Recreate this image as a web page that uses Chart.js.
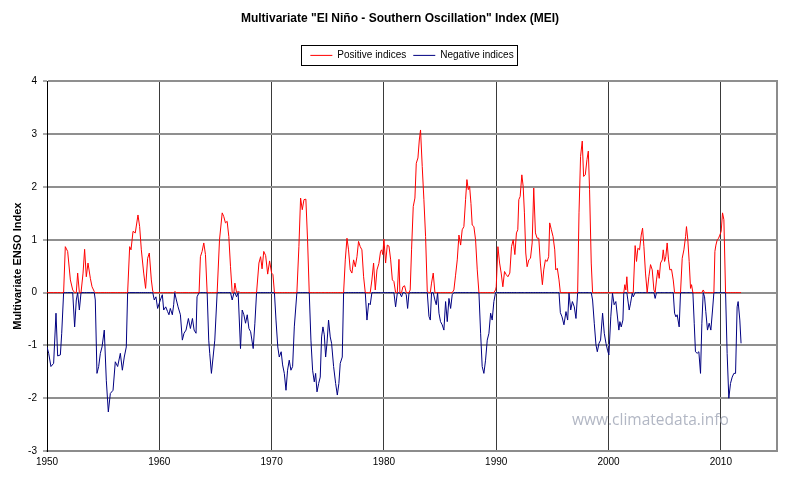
<!DOCTYPE html>
<html><head><meta charset="utf-8">
<script src="https://cdn.jsdelivr.net/npm/chart.js@4.4.1/dist/chart.umd.min.js"></script>
<style>html,body{margin:0;padding:0;background:#fff}</style>
</head><body>
<canvas id="c" width="800" height="488"></canvas>
<script>
// ---- Data ----
const years = [
1950.00,1950.15,1950.35,1950.59,1950.80,1950.95,1951.19,1951.31,1951.48,1951.63,1951.84,1952.08,1952.29,1952.46,1952.61,1952.73,1952.88,1953.03,1953.21,1953.35,1953.50,1953.65,1953.86,1954.01,1954.21,1954.30,1954.45,1954.60,1954.75,1954.90,
1955.10,1955.28,1955.46,1955.64,1955.88,1956.08,1956.29,1956.53,1956.71,1956.88,1957.06,1957.18,1957.36,1957.48,1957.66,1957.86,1958.10,1958.25,1958.40,1958.61,1958.78,1958.96,1959.11,1959.29,1959.42,1959.55,1959.70,1959.85,
1960.09,1960.27,1960.39,1960.57,1960.74,1960.86,1960.98,1961.16,1961.28,1961.37,1961.52,1961.67,1961.88,1962.05,1962.20,1962.38,1962.59,1962.77,1962.95,1963.10,1963.27,1963.36,1963.54,1963.66,1963.81,1963.96,1964.11,1964.26,1964.40,1964.49,1964.64,1964.79,1964.94,
1965.15,1965.36,1965.60,1965.74,1965.89,1966.04,1966.19,1966.34,1966.49,1966.64,1966.73,1966.88,1967.02,1967.23,1967.38,1967.53,1967.68,1967.83,1967.98,1968.13,1968.36,1968.51,1968.66,1968.87,1969.02,1969.15,1969.30,1969.47,1969.65,1969.82,
1970.00,1970.12,1970.25,1970.39,1970.55,1970.68,1970.85,1970.98,1971.13,1971.28,1971.42,1971.57,1971.72,1971.87,1972.02,1972.25,1972.43,1972.58,1972.73,1972.88,1973.05,1973.20,1973.35,1973.50,1973.65,1973.80,1973.92,1974.04,1974.19,1974.33,1974.45,1974.57,1974.69,1974.81,1974.93,
1975.07,1975.22,1975.34,1975.52,1975.70,1975.85,1975.99,1976.11,1976.29,1976.41,1976.56,1976.71,1976.85,1977.00,1977.15,1977.30,1977.45,1977.60,1977.74,1977.89,1978.04,1978.19,1978.34,1978.49,1978.64,1978.78,1978.93,1979.08,1979.23,1979.38,1979.55,1979.70,1979.80,1979.90,
1980.00,1980.15,1980.30,1980.45,1980.60,1980.75,1980.89,1981.04,1981.19,1981.34,1981.42,1981.57,1981.69,1981.84,1981.99,1982.11,1982.23,1982.34,1982.46,1982.61,1982.76,1982.88,1983.03,1983.15,1983.26,1983.41,1983.56,1983.71,1983.86,1984.01,1984.13,1984.24,1984.39,1984.54,1984.66,1984.78,1984.90,
1985.04,1985.19,1985.34,1985.49,1985.64,1985.79,1985.94,1986.08,1986.23,1986.38,1986.53,1986.68,1986.83,1986.97,1987.12,1987.27,1987.39,1987.51,1987.63,1987.75,1987.86,1988.01,1988.16,1988.31,1988.46,1988.61,1988.75,1988.90,1989.05,1989.20,1989.35,1989.50,1989.64,1989.79,1989.94,
1990.00,1990.15,1990.30,1990.44,1990.59,1990.74,1990.89,1991.04,1991.21,1991.36,1991.51,1991.66,1991.80,1991.92,1992.01,1992.13,1992.28,1992.40,1992.51,1992.63,1992.75,1992.90,1993.05,1993.20,1993.34,1993.49,1993.64,1993.79,1993.93,1994.11,1994.23,1994.38,1994.53,1994.67,1994.76,1994.91,
1995.06,1995.21,1995.30,1995.44,1995.59,1995.71,1995.86,1996.03,1996.21,1996.36,1996.48,1996.63,1996.78,1996.95,1997.10,1997.25,1997.37,1997.51,1997.66,1997.78,1997.93,1998.08,1998.20,1998.31,1998.46,1998.58,1998.73,1998.88,1999.00,1999.15,1999.29,1999.47,1999.62,1999.77,1999.91,
2000.03,2000.20,2000.35,2000.50,2000.65,2000.92,2001.01,2001.13,2001.28,2001.36,2001.45,2001.54,2001.63,2001.72,2001.84,2001.96,2002.11,2002.20,2002.37,2002.49,2002.61,2002.76,2002.91,2003.03,2003.15,2003.29,2003.44,2003.59,2003.74,2003.89,2004.04,2004.15,2004.27,2004.39,2004.51,2004.63,2004.78,2004.87,2004.99,
2005.10,2005.22,2005.34,2005.46,2005.61,2005.76,2005.88,2006.00,2006.11,2006.29,2006.41,2006.56,2006.71,2006.86,2006.94,2007.06,2007.18,2007.30,2007.39,2007.51,2007.63,2007.74,2007.89,2008.04,2008.19,2008.31,2008.43,2008.55,2008.66,2008.81,2008.96,2009.11,2009.26,2009.38,2009.47,2009.56,2009.68,2009.80,2009.91,
2010.03,2010.15,2010.27,2010.42,2010.56,2010.71,2010.86,2011.01,2011.16,2011.31,2011.45,2011.54,2011.69,2011.80
];
const mei = [
-1.03,-1.15,-1.40,-1.34,-0.39,-1.20,-1.18,-0.77,0,0.87,0.78,0.24,0.05,-0.65,-0.14,0.37,-0.33,0,0.37,0.82,0.30,0.56,0.27,0.11,0.02,-0.14,-1.53,-1.40,-1.15,-1.03,
-0.71,-1.66,-2.26,-1.91,-1.85,-1.31,-1.40,-1.15,-1.47,-1.22,-1.03,0,0.87,0.81,1.16,1.13,1.47,1.25,0.81,0.37,0.08,0.65,0.75,0.24,0.02,-0.14,-0.08,-0.30,
-0.14,-0.04,-0.33,-0.27,-0.36,-0.42,-0.30,-0.42,-0.23,0.02,-0.14,-0.27,-0.42,-0.90,-0.77,-0.71,-0.49,-0.68,-0.49,-0.71,-0.77,-0.08,0,0.68,0.78,0.94,0.72,0,-0.90,-1.15,-1.53,-1.22,-0.90,
0,1.00,1.51,1.44,1.32,1.35,1.06,0.49,-0.14,-0.01,0.18,-0.08,0.02,-1.06,-0.33,-0.42,-0.58,-0.42,-0.68,-0.74,-1.06,-0.58,0,0.56,0.68,0.45,0.78,0.70,0.35,0.60,
0.37,0.34,0,-0.52,-1.03,-1.22,-1.12,-1.37,-1.53,-1.85,-1.47,-1.28,-1.47,-1.40,-0.65,0,0.87,1.79,1.57,1.76,1.77,1.00,0,-0.90,-1.47,-1.69,-1.53,-1.88,-1.72,-1.60,-0.84,-0.65,-0.80,-1.22,-0.96,
-0.52,-0.84,-0.96,-1.40,-1.72,-1.94,-1.72,-1.34,-1.22,0,0.62,1.03,0.81,0.43,0.37,0.62,0.49,0.68,0.97,0.87,0.81,0.30,0,-0.52,-0.20,-0.23,0.24,0.56,0.05,0.43,0.55,0.78,0.81,0.72,
1.01,0.56,0.90,0.88,0.62,0.24,0.21,-0.27,-0.01,0.63,-0.01,-0.08,0.11,0.13,-0.04,-0.30,-0.01,0.05,0.81,1.63,1.79,2.45,2.55,2.89,3.08,2.39,1.76,1.06,0.02,-0.45,-0.52,0.18,0.37,-0.14,-0.23,0,-0.39,
-0.55,-0.61,-0.71,-0.17,-0.55,-0.11,-0.30,-0.04,0.05,0.33,0.62,1.09,0.90,1.19,1.25,1.76,2.14,1.95,2.01,1.69,1.28,1.25,1.00,0.43,0,-0.77,-1.40,-1.53,-1.28,-0.90,-0.77,-0.39,-0.52,-0.17,0.05,
0.11,0.87,0.56,0.37,0.11,0.40,0.34,0.30,0.37,0.87,1.00,0.72,1.13,1.19,1.76,1.82,2.23,2.01,1.51,0.75,0.49,0.62,0.65,0.94,1.98,1.13,1.03,1.03,0.56,0.15,0.43,0.62,0.59,0.68,1.32,1.19,
1.06,0.81,0.43,0.46,0.24,-0.38,-0.46,-0.61,-0.36,-0.52,-0.01,-0.33,-0.17,-0.27,-0.49,0,1.51,2.58,2.87,2.20,2.23,2.52,2.68,1.95,0.56,-0.14,-0.58,-0.99,-1.12,-0.96,-0.90,-0.39,-0.77,-0.96,-1.09,
-1.18,-0.46,-0.01,-0.23,-0.17,-0.71,-0.55,-0.65,-0.52,0,0.15,0.05,0.30,-0.14,-0.33,-0.20,-0.01,-0.08,0.89,0.59,0.84,0.81,1.09,1.22,0.87,0.37,0,0.30,0.53,0.43,0.05,-0.11,0.24,0.43,0.27,0.56,0.62,0.81,0.59,
0.68,0.94,0.62,0.43,0.44,0.24,-0.39,-0.46,-0.42,-0.65,0,0.65,0.81,1.06,1.25,1.00,0.59,0.08,0.15,0,-0.58,-1.12,-1.15,-1.12,-1.53,-0.58,0.05,-0.08,-0.36,-0.71,-0.58,-0.71,-0.33,0,0.78,0.90,1.00,1.03,1.09,
1.16,1.51,1.38,0,-1.15,-2.00,-1.72,-1.60,-1.53,-1.53,-0.27,-0.17,-0.52,-0.96
];
const xTicks = [1950, 1960, 1970, 1980, 1990, 2000, 2010];
const yTicks = [-3, -2, -1, 0, 1, 2, 3, 4];
const seriesNames = ['Positive indices', 'Negative indices'];
const seriesColors = ['#ff0000', '#000080'];
const titleText = 'Multivariate "El Niño - Southern Oscillation" Index (MEI)';
const yAxisTitle = 'Multivariate ENSO Index';
const watermarkText = 'www.climatedata.info';

// ---- Build series (values above / below zero) ----
const positive = years.map((x, i) => ({ x, y: Math.max(mei[i], 0) }));
const negative = years.map((x, i) => ({ x, y: Math.min(mei[i], 0) }));

Chart.defaults.font.family = '"Liberation Sans", Arial, sans-serif';
Chart.defaults.color = '#000';

const decor = {
  id: 'decor',
  afterDraw(chart) {
    const ctx = chart.ctx;
    const hb = chart.legend.legendHitBoxes;
    ctx.save();
    if (hb && hb.length) {
      const last = hb[hb.length - 1];
      const l = Math.round(hb[0].left - 9.5);
      const r = Math.round(last.left + last.width + 3.5);
      const cy = hb[0].top + hb[0].height / 2;
      const t = Math.round(cy - 10);
      ctx.strokeStyle = '#000';
      ctx.lineWidth = 1;
      ctx.strokeRect(l + 0.5, t + 0.5, r - l, 20);
    }
    const ca = chart.chartArea;
    ctx.font = '15.5px "Open Sans", sans-serif';
    ctx.fillStyle = '#b2b7c4';
    ctx.textBaseline = 'middle';
    ctx.textAlign = 'left';
    ctx.fillText(watermarkText, ca.right - 205, ca.bottom - 30);
    ctx.restore();
  }
};

new Chart(document.getElementById('c'), {
  type: 'line',
  data: {
    datasets: [
      { label: seriesNames[0], data: positive, borderColor: seriesColors[0], backgroundColor: seriesColors[0], borderWidth: 1, pointRadius: 0, tension: 0 },
      { label: seriesNames[1], data: negative, borderColor: seriesColors[1], backgroundColor: seriesColors[1], borderWidth: 1, pointRadius: 0, tension: 0 }
    ]
  },
  options: {
    responsive: false,
    animation: false,
    layout: { padding: { left: 0, right: 0, top: 0, bottom: 0 } },
    plugins: {
      title: {
        display: true, text: titleText,
        font: { size: 12, weight: 'bold' }, color: '#000',
        padding: { top: 11, bottom: 18 }
      },
      legend: {
        display: true, position: 'top', fullSize: false,
        labels: {
          font: { size: 10 }, color: '#000',
          usePointStyle: true, pointStyle: 'line', pointStyleWidth: 22,
          boxHeight: 10, padding: 7
        }
      },
      tooltip: { enabled: false }
    },
    scales: {
      x: {
        type: 'linear', min: 1950, max: 2015,
        afterBuildTicks: s => { s.ticks = xTicks.map(v => ({ value: v })); },
        afterFit: s => { s.height = 37; },
        ticks: { font: { size: 10 }, color: '#000', padding: 5, maxRotation: 0, callback: v => String(v) },
        grid: { color: '#3a3a3a', lineWidth: 1, drawTicks: false },
        border: { color: '#8c8c8c', width: 2 }
      },
      xTop: {
        type: 'linear', position: 'top', min: 0, max: 1,
        ticks: { display: false }, grid: { display: false }, border: { display: false },
        afterFit: s => { s.height = 11; }
      },
      y: {
        type: 'linear', min: -3, max: 4,
        afterBuildTicks: s => { s.ticks = yTicks.map(v => ({ value: v })); },
        afterFit: s => { s.width = 47; },
        ticks: { font: { size: 10 }, color: '#000', padding: 6 },
        grid: { color: '#8f8f8f', lineWidth: 2, tickLength: 4, tickColor: '#555', tickWidth: 1 },
        border: { color: '#000', width: 1 },
        title: { display: true, text: yAxisTitle, font: { size: 11, weight: 'bold' }, color: '#000', padding: { top: 11, bottom: 0 } }
      },
      yRight: {
        type: 'linear', position: 'right', min: -3, max: 4,
        ticks: { display: false }, grid: { display: false },
        border: { color: '#8c8c8c', width: 2 },
        afterFit: s => { s.width = 23; }
      }
    }
  },
  plugins: [decor]
});
</script>
</body></html>
